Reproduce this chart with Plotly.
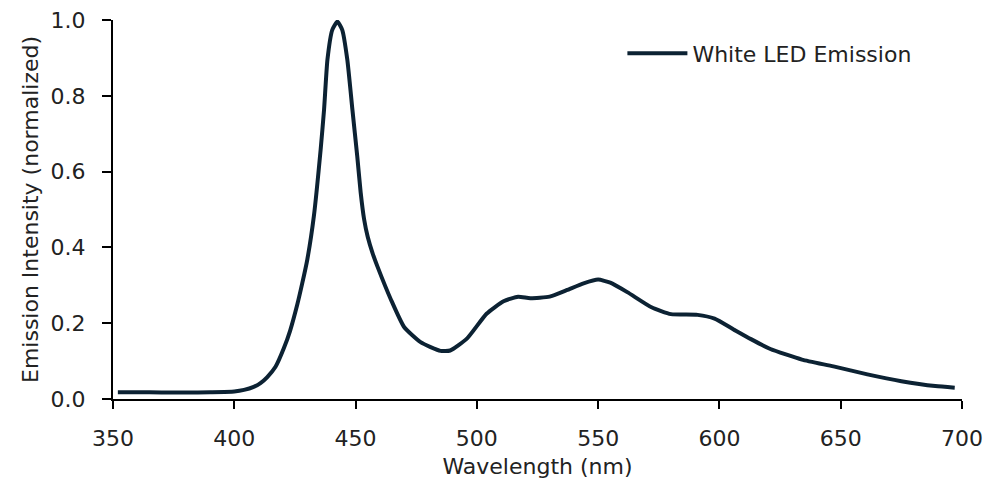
import plotly.graph_objects as go

wavelength = [352, 360, 370, 380, 390, 400, 404, 408, 410.8, 413.6, 417, 420.5, 423, 426, 428,
              430.1, 432.8, 435.6, 437, 438.4, 440.4, 442.5, 444.5, 446.6, 448.7, 450.7, 452.1,
              453.5, 455, 457, 459, 464.6, 470, 476.8, 485, 489, 496, 504, 511, 517, 522, 530,
              537, 544, 550, 555, 562, 572, 580, 591, 598, 606, 613, 621, 634, 647, 661, 675,
              689, 697]
intensity = [0.018, 0.018, 0.017, 0.017, 0.018, 0.020, 0.024, 0.032, 0.042, 0.058, 0.085, 0.135,
             0.180, 0.250, 0.305, 0.368, 0.482, 0.658, 0.763, 0.895, 0.974, 0.996, 0.974, 0.895,
             0.763, 0.640, 0.545, 0.475, 0.428, 0.385, 0.350, 0.262, 0.190, 0.150, 0.127, 0.128,
             0.160, 0.225, 0.258, 0.270, 0.266, 0.270, 0.287, 0.305, 0.315, 0.307, 0.282, 0.242,
             0.224, 0.222, 0.212, 0.183, 0.158, 0.132, 0.104, 0.086, 0.065, 0.047, 0.034, 0.030]

x_ticks = [350, 400, 450, 500, 550, 600, 650, 700]
y_ticks = [0.0, 0.2, 0.4, 0.6, 0.8, 1.0]
y_tick_labels = ["0.0", "0.2", "0.4", "0.6", "0.8", "1.0"]

FONT = "DejaVu Sans"
TXT = "#222222"

fig = go.Figure()
fig.add_trace(go.Scatter(
    x=wavelength, y=intensity, mode="lines", name="White LED Emission",
    line=dict(color="#0c2233", width=4, shape="spline", smoothing=0.5),
))

fig.update_layout(
    width=989, height=491,
    margin=dict(l=113, r=27, t=20, b=92),
    paper_bgcolor="white", plot_bgcolor="white",
    font=dict(family=FONT, size=22, color=TXT),
    showlegend=True,
    legend=dict(x=0.6, y=0.912, xanchor="left", yanchor="middle",
                bgcolor="rgba(0,0,0,0)", font=dict(size=22, family=FONT, color=TXT),
                itemwidth=60),
    xaxis=dict(range=[350, 700], tickvals=x_ticks, ticks="outside", ticklen=8, tickwidth=2,
               tickcolor="black", showline=True, linecolor="black", linewidth=2,
               showgrid=False, zeroline=False, ticklabelstandoff=11, automargin=False,
               tickfont=dict(size=22, family=FONT, color=TXT),
               title=dict(text="Wavelength (nm)", standoff=8,
                          font=dict(size=22, family=FONT, color=TXT))),
    yaxis=dict(range=[0, 1.0], tickvals=y_ticks, ticktext=y_tick_labels, ticks="outside",
               ticklen=9, tickwidth=2, tickcolor="black", showline=True, linecolor="black",
               linewidth=2, showgrid=False, zeroline=False, ticklabelstandoff=12,
               automargin=False,
               tickfont=dict(size=22, family=FONT, color=TXT),
               title=dict(text="Emission Intensity (normalized)", standoff=6,
                          font=dict(size=22, family=FONT, color=TXT))),
)

fig.write_html("out.html")
